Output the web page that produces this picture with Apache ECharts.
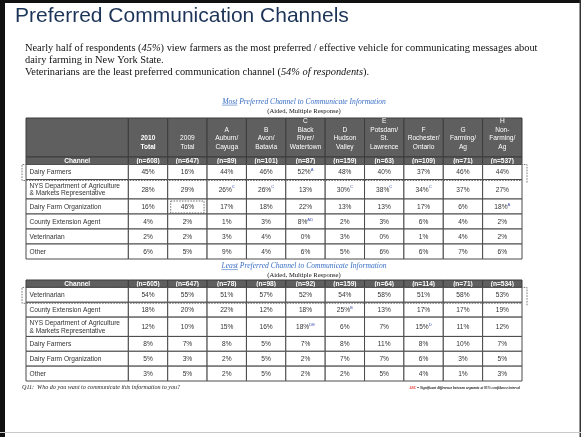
<!DOCTYPE html>
<html>
<head>
<meta charset="utf-8">
<script src="https://cdn.jsdelivr.net/npm/echarts@6/dist/echarts.min.js"></script>
<style>
html, body { margin: 0; padding: 0; background: #fff; }
#main { width: 581px; height: 437px; }
</style>
</head>
<body>
<div id="main"></div>
<script>
// segment columns (header labels)
const segments = ['2010\nTotal', '2009\nTotal', 'A\nAuburn/\nCayuga', 'B\nAvon/\nBatavia',
  'C\nBlack\nRiver/\nWatertown', 'D\nHudson\nValley', 'E\nPotsdam/\nSt.\nLawrence',
  'F\nRochester/\nOntario', 'G\nFarming/\nAg', 'H\nNon-\nFarming/\nAg'];

// most preferred table
const mostN = ['(n=608)', '(n=647)', '(n=89)', '(n=101)', '(n=87)', '(n=159)', '(n=63)', '(n=109)', '(n=71)', '(n=537)'];
const mostChannels = ['Dairy Farmers', 'NYS Department of Agriculture\n& Markets Representative',
  'Dairy Farm Organization', 'County Extension Agent', 'Veterinarian', 'Other'];
const mostValues = [
  [45, 16, 44, 46, 52, 48, 40, 37, 46, 44],
  [28, 29, 26, 26, 13, 30, 38, 34, 37, 27],
  [16, 46, 17, 18, 22, 13, 13, 17, 6, 18],
  [4, 2, 1, 3, 8, 2, 3, 6, 4, 2],
  [2, 2, 3, 4, 0, 3, 0, 1, 4, 2],
  [6, 5, 9, 4, 6, 5, 6, 6, 7, 6]
];
const mostSig = [
  ['', '', '', '', 'A', '', '', '', '', ''],
  ['', '', 'C', 'C', '', 'C', 'C', 'C', '', ''],
  ['', '', '', '', '', '', '', '', '', 'A'],
  ['', '', '', '', 'AD', '', '', '', '', ''],
  ['', '', '', '', '', '', '', '', '', ''],
  ['', '', '', '', '', '', '', '', '', '']
];

// least preferred table
const leastN = ['(n=605)', '(n=647)', '(n=78)', '(n=98)', '(n=92)', '(n=159)', '(n=64)', '(n=114)', '(n=71)', '(n=534)'];
const leastChannels = ['Veterinarian', 'County Extension Agent',
  'NYS Department of Agriculture\n& Markets Representative', 'Dairy Farmers',
  'Dairy Farm Organization', 'Other'];
const leastValues = [
  [54, 55, 51, 57, 52, 54, 58, 51, 58, 53],
  [18, 20, 22, 12, 18, 25, 13, 17, 17, 19],
  [12, 10, 15, 16, 18, 6, 7, 15, 11, 12],
  [8, 7, 8, 5, 7, 8, 11, 8, 10, 7],
  [5, 3, 2, 5, 2, 7, 7, 6, 3, 5],
  [3, 5, 2, 5, 2, 2, 5, 4, 1, 3]
];
const leastSig = [
  ['', '', '', '', '', '', '', '', '', ''],
  ['', '', '', '', '', 'B', '', '', '', ''],
  ['', '', '', '', 'DE', '', '', 'D', '', ''],
  ['', '', '', '', '', '', '', '', '', ''],
  ['', '', '', '', '', '', '', '', '', ''],
  ['', '', '', '', '', '', '', '', '', '']
];

// column edges: wide channel column then equal segment columns
const colEdges = [0, 2.6];
segments.forEach(() => colEdges.push(colEdges[colEdges.length - 1] + 1));
const totalW = colEdges[colEdges.length - 1];

function buildTable(withHeader, nRow, channels, values, sig) {
  const heights = [];
  const cells = [];
  let r = 0;
  if (withHeader) {
    heights.push(2.6);
    cells.push({ col: 0, row: r, text: '', kind: 'head' });
    segments.forEach((s, i) => cells.push({ col: i + 1, row: r, text: s, kind: 'head', bold: i === 0 }));
    r++;
  }
  heights.push(0.5);
  cells.push({ col: 0, row: r, text: 'Channel', kind: 'n' });
  nRow.forEach((s, i) => cells.push({ col: i + 1, row: r, text: s, kind: 'n' }));
  r++;
  channels.forEach((ch, k) => {
    heights.push(ch.indexOf('\n') >= 0 ? 1.3 : 1);
    cells.push({ col: 0, row: r, text: ch, kind: 'label' });
    values[k].forEach((v, i) => {
      const s = sig[k][i];
      cells.push({ col: i + 1, row: r, text: v + '%' + (s ? '{s|' + s + '}' : ''), kind: 'val' });
    });
    r++;
  });
  const rowEdges = [0];
  heights.forEach(h => rowEdges.push(rowEdges[rowEdges.length - 1] + h));
  return { cells, rowEdges, firstData: withHeader ? 2 : 1 };
}

const mostTable = buildTable(true, mostN, mostChannels, mostValues, mostSig);
const leastTable = buildTable(false, leastN, leastChannels, leastValues, leastSig);

function cellRect(api, rowEdges, c0, c1, r0, r1) {
  const p0 = api.coord([colEdges[c0], rowEdges[r0]]);
  const p1 = api.coord([colEdges[c1], rowEdges[r1]]);
  return {
    x: Math.min(p0[0], p1[0]), y: Math.min(p0[1], p1[1]),
    width: Math.abs(p1[0] - p0[0]), height: Math.abs(p1[1] - p0[1])
  };
}

function cellRenderer(table) {
  return function (params, api) {
    const c = table.cells[params.dataIndex];
    const rc = cellRect(api, table.rowEdges, c.col, c.col + 1, c.row, c.row + 1);
    const dark = c.kind === 'head' || c.kind === 'n';
    const left = c.kind === 'label';
    const head = c.kind === 'head';
    return {
      type: 'group',
      children: [{
        type: 'rect',
        shape: rc,
        style: { fill: dark ? '#5f5f5f' : '#fff', stroke: dark ? '#3c3c3c' : '#4a4a4a', lineWidth: 1 }
      }, {
        type: 'text',
        style: {
          text: c.text,
          x: left ? rc.x + 3.5 : rc.x + rc.width / 2,
          y: head ? rc.y + rc.height - 5.5 : rc.y + rc.height / 2 + 0.5,
          align: left ? 'left' : 'center',
          verticalAlign: head ? 'bottom' : 'middle',
          fontFamily: 'Liberation Sans',
          fontSize: 6.6,
          lineHeight: head ? 8.7 : 7.6,
          fontWeight: (c.kind === 'n' || c.bold) ? 'bold' : 'normal',
          fill: dark ? '#fff' : '#333',
          rich: { s: { fontSize: 4.2, fill: '#3a4fb0', verticalAlign: 'top', lineHeight: 9, fontFamily: 'Liberation Sans' } }
        }
      }]
    };
  };
}

// dashed highlight boxes: whole row or single cell
function dashRenderer(table, marks) {
  return function (params, api) {
    const m = marks[params.dataIndex];
    const r = m.row + table.firstData;
    const rc = m.col == null
      ? cellRect(api, table.rowEdges, 0, colEdges.length - 1, r, r + 1)
      : cellRect(api, table.rowEdges, m.col + 1, m.col + 2, r, r + 1);
    const children = [];
    const dash = { stroke: '#555', lineWidth: 0.8, lineDash: [1.6, 1.2], fill: null };
    if (m.col == null) {
      const x0 = rc.x - 4, x1 = rc.x + rc.width + 5;
      children.push({ type: 'polyline', shape: { points: [[x1, rc.y + rc.height + 3], [x1, rc.y], [x0, rc.y], [x0, rc.y + rc.height + 1], [rc.x + rc.width, rc.y + rc.height + 1]] }, style: dash });
    } else {
      children.push({ type: 'rect', shape: { x: rc.x + 3, y: rc.y + 2, width: rc.width - 6, height: rc.height - 3 }, style: dash });
    }
    return { type: 'group', children };
  };
}

const mostMarks = [{ row: 0 }, { row: 2, col: 1 }];
const leastMarks = [{ row: 0 }];

const sans = 'Liberation Sans';
const serif = 'Liberation Serif';
const subSize = 7.6;
const subCenter = 304;
const subColor = '#3a6fc4';

// table subtitle (blue italic, first word underlined) + "(Aided, Multiple Response)"
const measure = document.createElement('canvas').getContext('2d');
measure.font = 'italic ' + (subSize * 10) + 'px "Liberation Serif"';
function subtitle(word, top) {
  const rest = ' Preferred Channel to Communicate Information';
  const full = measure.measureText(word + rest).width / 10;
  const w = measure.measureText(word).width / 10;
  const x0 = subCenter - full / 2;
  return [{
    type: 'text', x: subCenter, y: top, z: 10,
    style: {
      text: word + rest, align: 'center', verticalAlign: 'top',
      fontFamily: serif, fontSize: subSize, fontStyle: 'italic', fill: subColor
    }
  }, {
    type: 'text', x: subCenter, y: top + 10, z: 10,
    style: {
      text: '(Aided, Multiple Response)', align: 'center', verticalAlign: 'top',
      fontFamily: serif, fontSize: 6.6, fill: '#111'
    }
  }, {
    type: 'line', z: 10,
    shape: { x1: x0, y1: top + 7.6, x2: x0 + w, y2: top + 7.6 },
    style: { stroke: subColor, lineWidth: 0.6 }
  }];
}

const chart = echarts.init(document.getElementById('main'));
chart.setOption({
  animation: false,
  backgroundColor: '#fff',
  title: [{
    text: 'Preferred Communication Channels',
    left: 10, top: 1,
    textStyle: { fontFamily: sans, fontSize: 21, fontWeight: 'normal', color: '#1c3458' }
  }, {
    text: 'Nearly half of respondents ({i|45%}) view farmers as the most preferred / effective vehicle for communicating messages about\ndairy farming in New York State.\nVeterinarians are the least preferred communication channel ({i|54% of respondents}).',
    left: 20, top: 37,
    textStyle: {
      fontFamily: serif, fontSize: 10.4, lineHeight: 12, fontWeight: 'normal', color: '#111',
      rich: { i: { fontFamily: serif, fontSize: 10.4, fontStyle: 'italic', color: '#111' } }
    }
  }, {
    text: 'Q11:  Who do you want to communicate this information to you?',
    left: 17, top: 379,
    textStyle: { fontFamily: serif, fontSize: 6.1, fontStyle: 'italic', fontWeight: 'normal', color: '#222' }
  }, {
    text: '{r|ABC} = Significant difference between segments at 95% confidence interval',
    right: 56, top: 381,
    textStyle: {
      fontFamily: serif, fontSize: 3.6, fontStyle: 'italic', fontWeight: 'bold', color: '#222',
      rich: { r: { fontFamily: serif, fontSize: 3.6, fontStyle: 'italic', fontWeight: 'bold', color: '#e0302a' } }
    }
  }],
  graphic: [
    { type: 'rect', left: 0, top: 0, shape: { width: 5, height: 437 }, style: { fill: '#111' } },
    { type: 'rect', left: 0, top: 0, shape: { width: 581, height: 3 }, style: { fill: '#111' } },
    { type: 'rect', right: 0, top: 0, shape: { width: 1.5, height: 437 }, style: { fill: '#333' } },
    { type: 'rect', left: 0, top: 432, shape: { width: 581, height: 1 }, style: { fill: '#c8c8c8' } }
  ].concat(subtitle('Most', 97.5), subtitle('Least', 262)),
  grid: [
    { left: 26, top: 118, width: 496, height: 141 },
    { left: 26, top: 280, width: 496, height: 101 }
  ],
  xAxis: [
    { type: 'value', gridIndex: 0, min: 0, max: totalW, show: false },
    { type: 'value', gridIndex: 1, min: 0, max: totalW, show: false }
  ],
  yAxis: [
    { type: 'value', gridIndex: 0, min: 0, max: mostTable.rowEdges[mostTable.rowEdges.length - 1], inverse: true, show: false },
    { type: 'value', gridIndex: 1, min: 0, max: leastTable.rowEdges[leastTable.rowEdges.length - 1], inverse: true, show: false }
  ],
  series: [{
    type: 'custom', xAxisIndex: 0, yAxisIndex: 0,
    data: mostTable.cells.map(c => [c.col, c.row]),
    renderItem: cellRenderer(mostTable)
  }, {
    type: 'custom', xAxisIndex: 1, yAxisIndex: 1,
    data: leastTable.cells.map(c => [c.col, c.row]),
    renderItem: cellRenderer(leastTable)
  }, {
    type: 'custom', xAxisIndex: 0, yAxisIndex: 0, z: 5,
    data: mostMarks.map(m => [m.col == null ? 0 : m.col, m.row]),
    renderItem: dashRenderer(mostTable, mostMarks)
  }, {
    type: 'custom', xAxisIndex: 1, yAxisIndex: 1, z: 5,
    data: leastMarks.map(m => [m.col == null ? 0 : m.col, m.row]),
    renderItem: dashRenderer(leastTable, leastMarks)
  }]
});
</script>
</body>
</html>
